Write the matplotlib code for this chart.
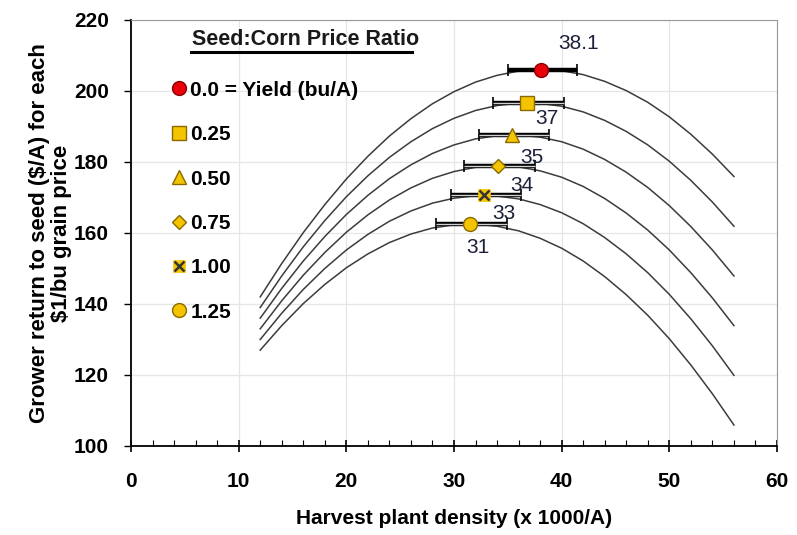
import matplotlib
matplotlib.use("Agg")
import matplotlib.pyplot as plt
from matplotlib.legend_handler import HandlerTuple

plt.rcParams['font.family'] = ['Liberation Sans', 'DejaVu Sans']
plt.rcParams['font.weight'] = 'bold'

# ---------------- data ----------------
density = [12, 14, 16, 18, 20, 22, 24, 26, 28, 30, 32, 34, 36, 38, 40, 42, 44, 46, 48, 50, 52, 54, 56]

ret_000 = [142.0, 151.4, 160.1, 168.0, 175.2, 181.6, 187.3, 192.2, 196.4, 199.8, 202.5, 204.4,
           205.6, 206.0, 205.7, 204.6, 202.7, 200.1, 196.8, 192.7, 187.8, 182.2, 175.9]
ret_025 = [139.0, 147.9, 156.1, 163.5, 170.2, 176.1, 181.3, 185.7, 189.4, 192.3, 194.5, 195.9,
           196.6, 196.5, 195.7, 194.1, 191.7, 188.6, 184.8, 180.2, 174.8, 168.7, 161.9]
ret_050 = [136.0, 144.4, 152.1, 159.0, 165.2, 170.6, 175.3, 179.2, 182.4, 184.8, 186.5, 187.4,
           187.6, 187.0, 185.7, 183.6, 180.7, 177.1, 172.8, 167.7, 161.8, 155.2, 147.9]
ret_075 = [133.0, 140.9, 148.1, 154.5, 160.2, 165.1, 169.3, 172.7, 175.4, 177.3, 178.5, 178.9,
           178.6, 177.5, 175.7, 173.1, 169.7, 165.6, 160.8, 155.2, 148.8, 141.7, 133.9]
ret_100 = [130.0, 137.4, 144.1, 150.0, 155.2, 159.6, 163.3, 166.2, 168.4, 169.8, 170.5, 170.4,
           169.6, 168.0, 165.7, 162.6, 158.7, 154.1, 148.8, 142.7, 135.8, 128.2, 119.9]
ret_125 = [127.0, 133.9, 140.1, 145.5, 150.2, 154.1, 157.3, 159.7, 161.4, 162.3, 162.5, 161.9,
           160.6, 158.5, 155.7, 152.1, 147.7, 142.6, 136.8, 130.2, 122.8, 114.7, 105.9]
curves = [ret_000, ret_025, ret_050, ret_075, ret_100, ret_125]

legend_labels = ["0.0 = Yield (bu/A)", "0.25", "0.50", "0.75", "1.00", "1.25"]
opt_density = [38.1, 36.8, 35.4, 34.1, 32.8, 31.45]
opt_return = [206.0, 196.6, 187.6, 178.9, 170.6, 162.5]
ci_low = [35.0, 33.6, 32.3, 30.9, 29.7, 28.3]
ci_high = [41.4, 40.2, 38.8, 37.5, 36.2, 34.9]
opt_labels = ["38.1", "37", "35", "34", "33", "31"]

# ---------------- layout / style ----------------
label_offsets = [(27, 19), (14, -11), (14, -16), (17, -14), (14, -13), (6, -17)]
gold = '#F5C400'
gold_edge = '#8A6A00'

fig = plt.figure(figsize=(7.97, 5.35), dpi=100)
ax = fig.add_axes([0.1644, 0.1664, 0.8105, 0.7963])

ax.set_xlim(0, 60)
ax.set_ylim(100, 220)
ax.set_xticks(range(0, 61, 10))
ax.set_xticks(range(0, 61, 2), minor=True)
ax.set_yticks(range(100, 221, 20))
ax.grid(True, which='major', color='#e6e6e6', linewidth=0.9)
ax.set_axisbelow(True)

for sp in ['top', 'right']:
    ax.spines[sp].set_color('#999999')
for sp in ['left', 'bottom']:
    ax.spines[sp].set_color('black')
    ax.spines[sp].set_linewidth(1.3)

ax.tick_params(axis='x', which='major', direction='inout', length=8, width=1.2, labelsize=15, pad=15)
ax.tick_params(axis='x', which='minor', direction='in', length=4, width=0.8)
ax.tick_params(axis='y', which='major', direction='out', length=5, width=1.0, labelsize=15, pad=11)
ax.tick_params(top=False, right=False)

for c in curves:
    ax.plot(density, c, color='#3c3c3c', linewidth=1.1, zorder=2)

# error bars
for i in range(len(opt_density)):
    xe = [[opt_density[i] - ci_low[i]], [ci_high[i] - opt_density[i]]]
    ax.errorbar([opt_density[i]], [opt_return[i]], xerr=xe, fmt='none', ecolor='black',
                elinewidth=3.2, capsize=4, capthick=1.2, zorder=3)
    if i > 0:
        ax.errorbar([opt_density[i]], [opt_return[i]], xerr=xe, fmt='none', ecolor='#d0d0d0',
                    elinewidth=1.0, capsize=0, zorder=3.5)

# markers
h0, = ax.plot([opt_density[0]], [opt_return[0]], linestyle='none', marker='o', ms=10,
              mfc='#E8000B', mec='#8B0000', mew=1.0, zorder=5)
h1, = ax.plot([opt_density[1]], [opt_return[1]], linestyle='none', marker='s', ms=10,
              mfc=gold, mec=gold_edge, mew=1.0, zorder=5)
h2, = ax.plot([opt_density[2]], [opt_return[2]], linestyle='none', marker='^', ms=10,
              mfc=gold, mec=gold_edge, mew=1.0, zorder=5)
h3, = ax.plot([opt_density[3]], [opt_return[3]], linestyle='none', marker='D', ms=7,
              mfc=gold, mec=gold_edge, mew=1.0, zorder=5)
h4a, = ax.plot([opt_density[4]], [opt_return[4]], linestyle='none', marker='s', ms=9,
               mfc=gold, mec=gold, mew=0.5, zorder=5)
h4b, = ax.plot([opt_density[4]], [opt_return[4]], linestyle='none', marker='x', ms=7,
               mec='#333333', mew=1.8, zorder=6)
h5, = ax.plot([opt_density[5]], [opt_return[5]], linestyle='none', marker='o', ms=10,
              mfc=gold, mec=gold_edge, mew=1.0, zorder=5)

for i, t in enumerate(opt_labels):
    ax.annotate(t, (opt_density[i], opt_return[i]), xytext=label_offsets[i],
                textcoords='offset points', ha='center', va='center', fontsize=15,
                fontweight='normal', color='#1c2038', zorder=7)

handles = [h0, h1, h2, h3, (h4a, h4b), h5]
leg = ax.legend(handles, legend_labels, loc='upper left', bbox_to_anchor=(0.045, 0.877),
                frameon=False, fontsize=15, labelspacing=1.22, handletextpad=0.05,
                handlelength=1.0, borderaxespad=0, handler_map={tuple: HandlerTuple(ndivide=1)})

ax.text(0.094, 0.955, "Seed:Corn Price Ratio", transform=ax.transAxes, fontsize=15.5,
        fontweight='bold', ha='left', va='center', color='#1a1a1a')
ax.plot([0.093, 0.435], [0.925, 0.925], transform=ax.transAxes, color='black',
        linewidth=2.2, clip_on=False)

ax.set_xlabel("Harvest plant density (x 1000/A)", fontsize=15, fontweight='bold', labelpad=13)
ax.set_ylabel("Grower return to seed (\\$/A) for each\n\\$1/bu grain price", fontsize=16,
              fontweight='bold', labelpad=1, linespacing=1.1)

fig.savefig("out.png", dpi=100)
